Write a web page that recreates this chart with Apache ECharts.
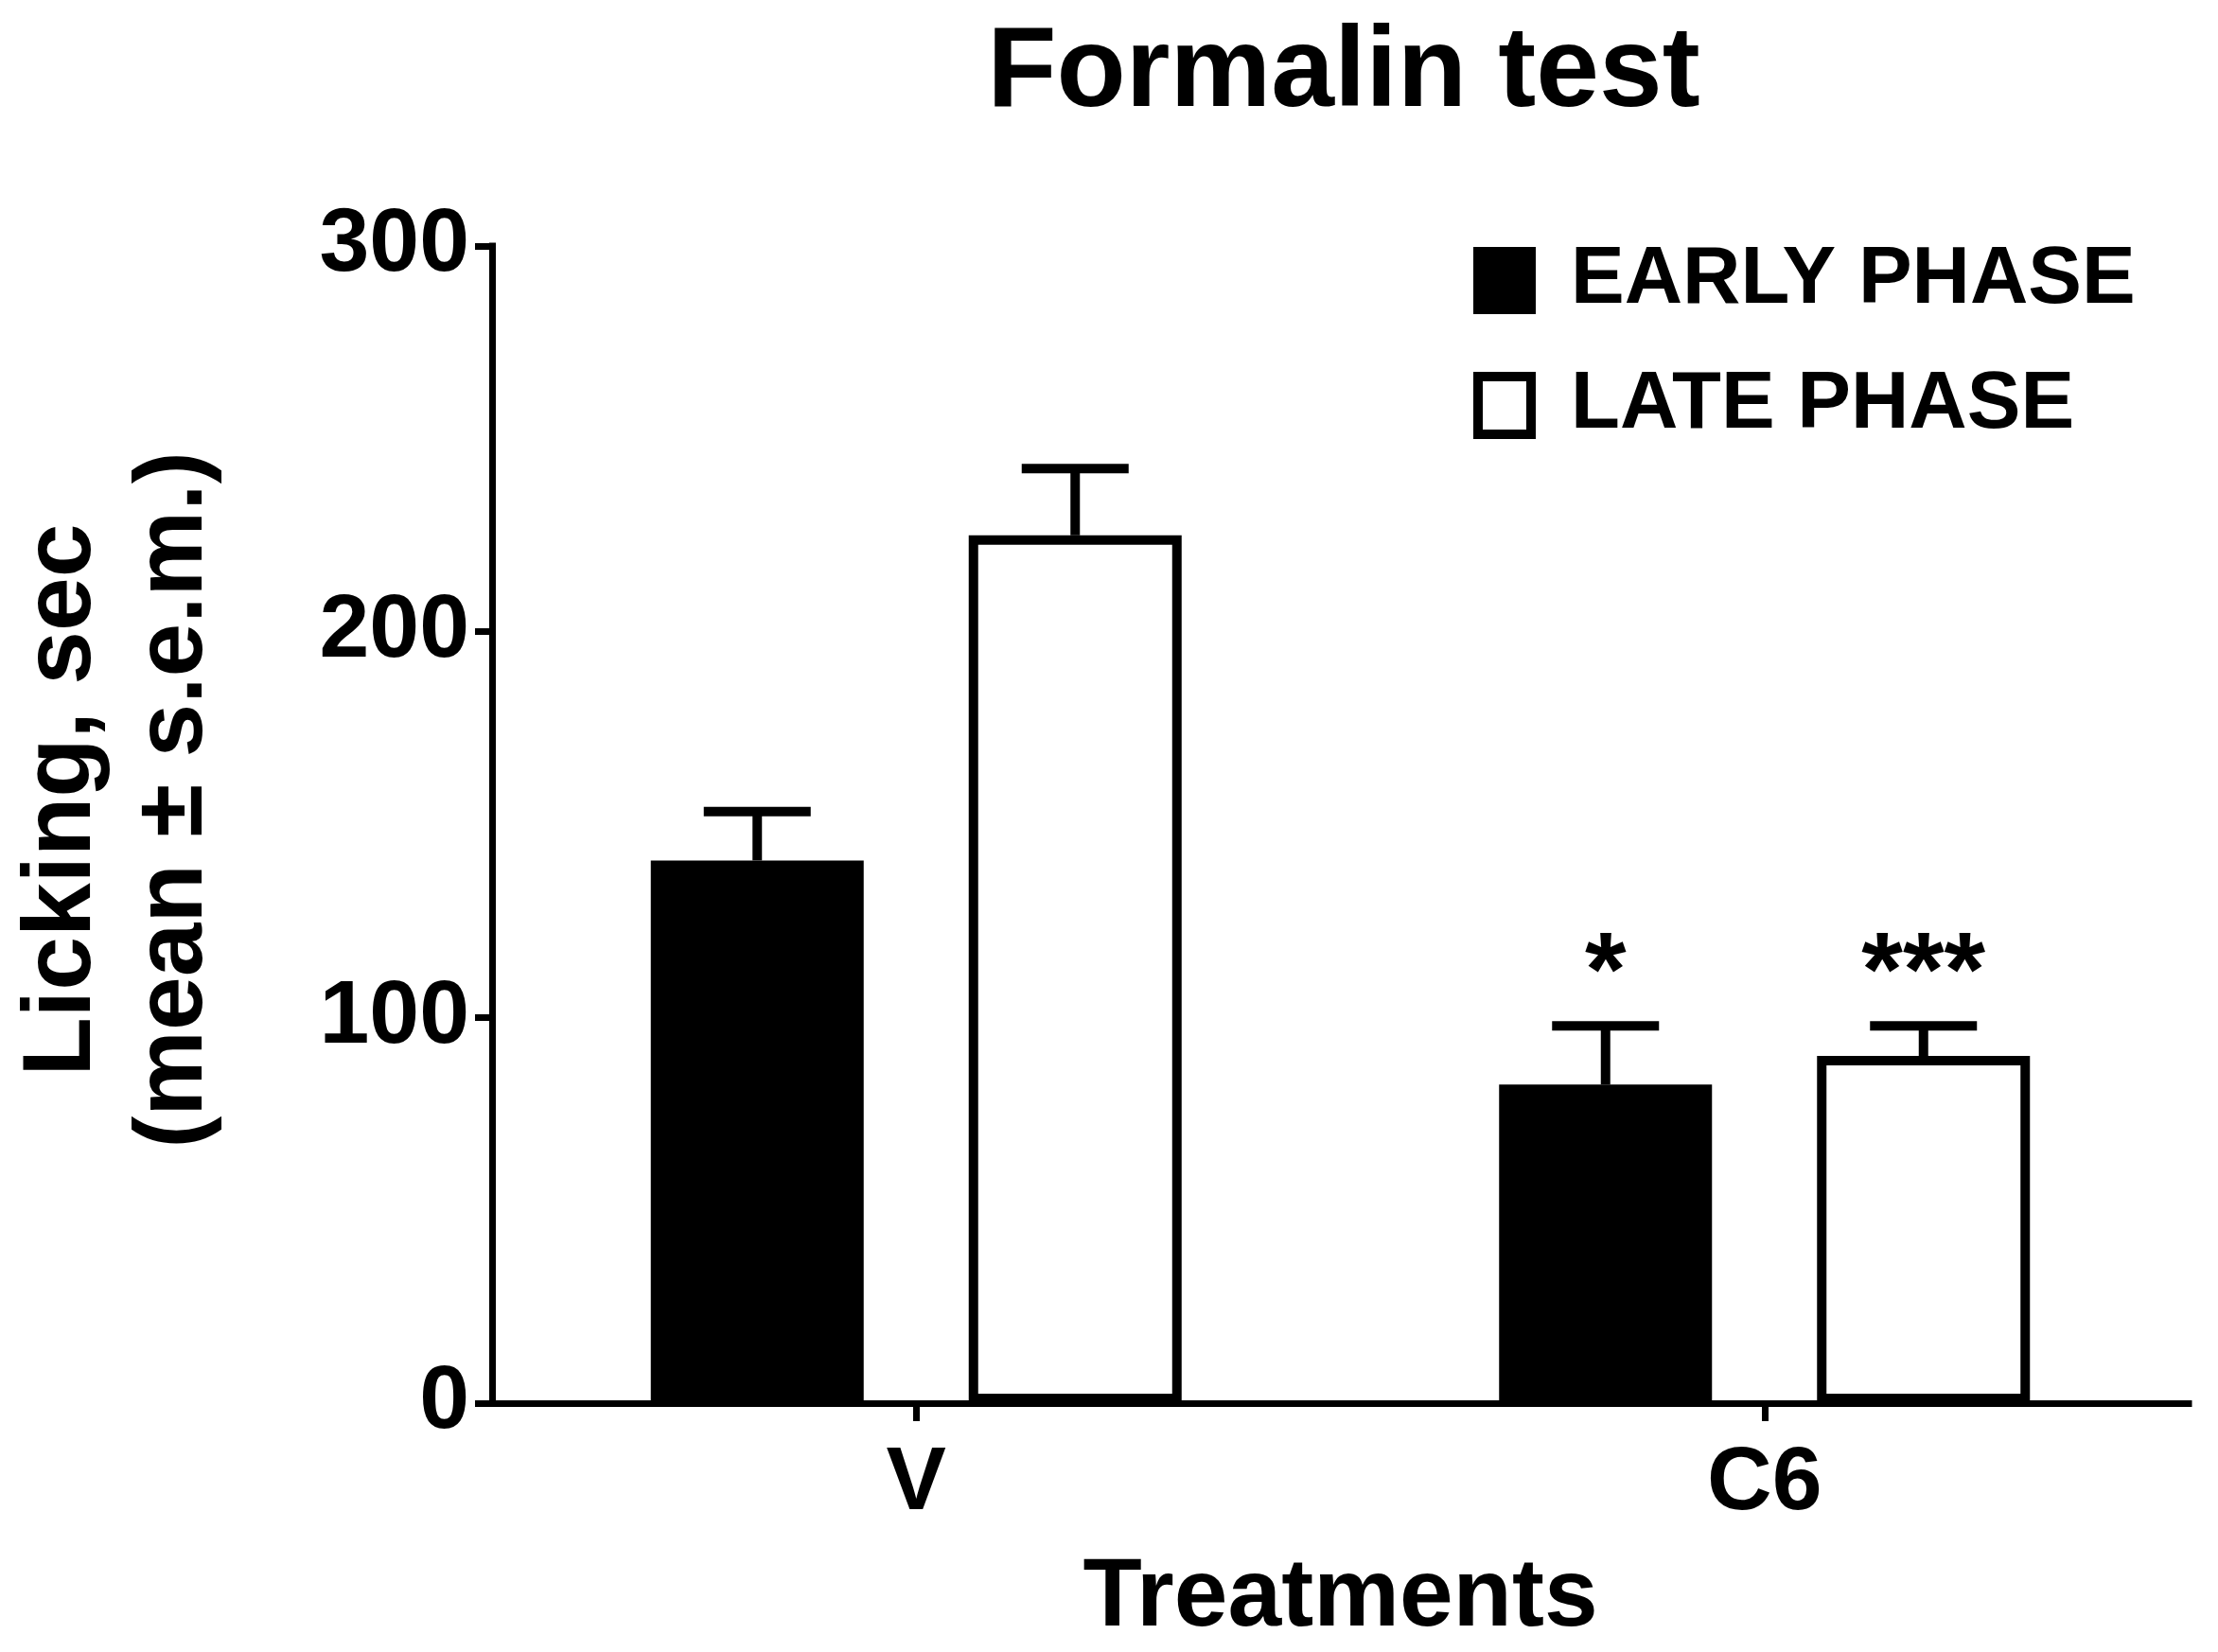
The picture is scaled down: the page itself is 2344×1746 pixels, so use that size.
<!DOCTYPE html>
<html>
<head>
<meta charset="utf-8">
<script src="https://cdn.jsdelivr.net/npm/echarts@6/dist/echarts.min.js"></script>
<style>
html,body{margin:0;padding:0;background:#fff;}
#chart{width:2344px;height:1746px;}
</style>
</head>
<body>
<div id="chart"></div>
<script>
// ---- data ----
const categories = ['V', 'C6'];
const seriesNames = ['EARLY PHASE', 'LATE PHASE'];
const earlyMean = [140.7, 82.6];
const earlySem = [12.7, 15.2];
const lateMean = [225, 90];
const lateSem = [17.3, 7.8];
const earlySig = ['', '*'];
const lateSig = ['', '***'];
const yTicks = [0, 100, 200, 300];

// ---- layout constants ----
const FONT = '"Liberation Sans", Arial, sans-serif';
const BAR_W = 225;
const GAP_PX = 111;
const CAP_W = 113;
const LW = 10;
const STAR_OFF = 52;

const errData = [];
const sigText = [];
categories.forEach(function (c, i) {
  errData.push([i, earlyMean[i], earlyMean[i] + earlySem[i], -1]);
  sigText.push(earlySig[i]);
  errData.push([i, lateMean[i], lateMean[i] + lateSem[i], 1]);
  sigText.push(lateSig[i]);
});

function renderErr(params, api) {
  const ci = api.value(0), mean = api.value(1), up = api.value(2), side = api.value(3);
  const cx = api.coord([ci, 0])[0] + side * (BAR_W + GAP_PX) / 2;
  const y0 = api.coord([ci, mean])[1];
  const y1 = api.coord([ci, up])[1];
  const children = [
    {type: 'line', shape: {x1: cx, y1: y0, x2: cx, y2: y1}, style: {stroke: '#000', lineWidth: LW}},
    {type: 'line', shape: {x1: cx - CAP_W / 2, y1: y1, x2: cx + CAP_W / 2, y2: y1}, style: {stroke: '#000', lineWidth: LW}}
  ];
  const lab = sigText[params.dataIndex];
  if (lab) {
    children.push({type: 'text', x: cx, y: y1 - STAR_OFF,
      style: {text: lab, font: 'bold 112px ' + FONT, fill: '#000', align: 'center', verticalAlign: 'middle'}});
  }
  return {type: 'group', children: children};
}

const chart = echarts.init(document.getElementById('chart'));
chart.setOption({
  animation: false,
  backgroundColor: '#fff',
  title: {
    text: 'Formalin test',
    left: 1420, top: 19, textAlign: 'center', padding: 0,
    textStyle: {fontSize: 120, fontWeight: 'bold', fontFamily: FONT, color: '#000'}
  },
  legend: {
    data: seriesNames,
    orient: 'vertical',
    left: 1557, top: 254, padding: 0,
    itemWidth: 56, itemHeight: 61, itemGap: 47,
    icon: 'rect',
    selectedMode: false,
    itemStyle: {borderWidth: LW, borderColor: '#000'},
    textStyle: {fontSize: 85, fontWeight: 'bold', fontFamily: FONT, color: '#000', padding: [0, 0, 0, 37], lineHeight: 61}
  },
  grid: {left: 518, right: 31, top: 260, bottom: 262, containLabel: false},
  xAxis: {
    type: 'category',
    data: categories,
    boundaryGap: true,
    name: 'Treatments',
    nameLocation: 'middle',
    nameGap: 156,
    nameTextStyle: {fontSize: 102, fontWeight: 'bold', fontFamily: FONT, color: '#000'},
    axisLine: {show: true, lineStyle: {color: '#000', width: 7, cap: 'square'}},
    axisTick: {show: true, alignWithLabel: true, length: 19, lineStyle: {color: '#000', width: 7}},
    axisLabel: {fontSize: 95, fontWeight: 'bold', fontFamily: FONT, color: '#000', margin: 38},
    splitLine: {show: false}
  },
  yAxis: {
    type: 'value',
    min: yTicks[0], max: yTicks[yTicks.length - 1], interval: yTicks[1] - yTicks[0],
    name: 'Licking, sec\n(mean ± s.e.m.)',
    nameLocation: 'middle',
    nameGap: 276,
    nameRotate: 90,
    nameTextStyle: {fontSize: 102, fontWeight: 'bold', fontFamily: FONT, color: '#000', lineHeight: 118, padding: [0, 0, 0, 52]},
    axisLine: {show: true, lineStyle: {color: '#000', width: 7, cap: 'square'}},
    axisTick: {show: true, length: 18, lineStyle: {color: '#000', width: 7}},
    axisLabel: {fontSize: 95, fontWeight: 'bold', fontFamily: FONT, color: '#000', margin: 24, padding: [9, 0, 0, 0]},
    splitLine: {show: false}
  },
  series: [
    {
      name: seriesNames[0], type: 'bar', data: earlyMean,
      barWidth: BAR_W, barGap: (GAP_PX / BAR_W * 100) + '%',
      itemStyle: {color: '#000', borderColor: '#000', borderWidth: LW},
      emphasis: {disabled: true}
    },
    {
      name: seriesNames[1], type: 'bar', data: lateMean,
      barWidth: BAR_W, barGap: (GAP_PX / BAR_W * 100) + '%',
      itemStyle: {color: '#fff', borderColor: '#000', borderWidth: LW},
      emphasis: {disabled: true}
    },
    {
      name: 'err', type: 'custom', renderItem: renderErr, data: errData, z: 5,
      encode: {x: 0, y: [1, 2]}, silent: true
    }
  ]
});
</script>
</body>
</html>
